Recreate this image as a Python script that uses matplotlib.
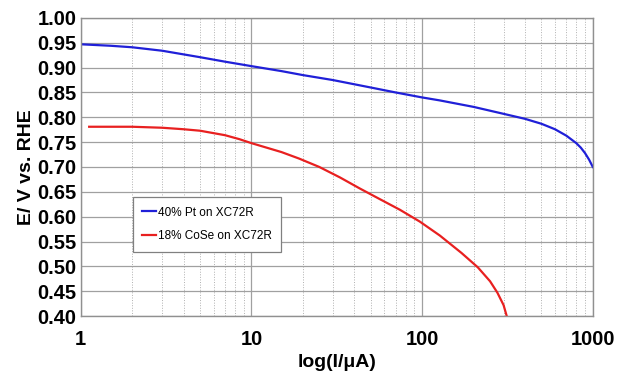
import matplotlib
matplotlib.use("Agg")
import matplotlib.pyplot as plt
from matplotlib.ticker import LogLocator, NullFormatter
import numpy as np

plt.rcParams['font.family'] = ['Liberation Sans', 'DejaVu Sans']

# current (uA) and potential (V vs RHE)
pt_current = [1.0, 1.5, 2.0, 3.0, 5.0, 7.0, 10, 15, 20, 30, 50, 70, 100, 127, 200, 300, 400, 500, 600, 700, 800, 850, 900, 950, 1000]
pt_potential = [0.947, 0.944, 0.941, 0.934, 0.921, 0.912, 0.903, 0.893, 0.885, 0.875, 0.860, 0.850, 0.840, 0.834, 0.821, 0.807, 0.797, 0.787, 0.776, 0.763, 0.748, 0.739, 0.728, 0.715, 0.700]

cose_current = [1.12, 1.5, 2.0, 3.0, 4.0, 5.0, 7.0, 8.5, 10, 15, 19, 25, 33, 43, 56, 74, 97, 127, 170, 212, 250, 276, 300, 313]
cose_potential = [0.781, 0.781, 0.781, 0.779, 0.776, 0.773, 0.764, 0.756, 0.748, 0.730, 0.717, 0.700, 0.679, 0.657, 0.636, 0.614, 0.590, 0.562, 0.527, 0.498, 0.470, 0.447, 0.422, 0.400]

labels = ["40% Pt on XC72R", "18% CoSe on XC72R"]

fig = plt.figure(figsize=(6.26, 3.74), dpi=100)
ax = fig.add_axes([0.129, 0.155, 0.818, 0.797])

ax.plot(pt_current, pt_potential, color='#2020d8', lw=1.6, label=labels[0])
ax.plot(cose_current, cose_potential, color='#e82020', lw=1.6, label=labels[1])

ax.set_xscale('log')
ax.set_xlim(1, 1000)
ax.set_ylim(0.40, 1.00)
yt = np.arange(0.40, 1.001, 0.05)
ax.set_yticks(yt)
ax.set_yticklabels(["%.2f" % v for v in yt])
ax.set_xticks([1, 10, 100, 1000])
ax.set_xticklabels(["1", "10", "100", "1000"])
ax.xaxis.set_minor_locator(LogLocator(base=10, subs=np.arange(2, 10)))
ax.xaxis.set_minor_formatter(NullFormatter())

ax.grid(True, which='major', color='#a0a0a0', lw=0.9)
ax.grid(True, which='minor', axis='x', color='#b0b0b0', lw=0.7, ls=':')
ax.tick_params(which='both', length=0, labelsize=14.5)
ax.tick_params(axis='y', pad=3)
ax.tick_params(axis='x', pad=10)
for lab in ax.get_xticklabels() + ax.get_yticklabels():
    lab.set_fontweight('bold')
for s in ax.spines.values():
    s.set_color('#909090')
    s.set_linewidth(1.0)

ax.set_xlabel("log(I/\u03bcA)", fontsize=14, fontweight='bold', labelpad=4)
ax.set_ylabel("E/ V vs. RHE", fontsize=14, fontweight='bold', labelpad=2)

leg = ax.legend(loc='upper left', bbox_to_anchor=(0.1016, 0.399), borderaxespad=0,
                fontsize=8.5, handlelength=1.2, handletextpad=0.1, fancybox=False,
                framealpha=1, edgecolor='#808080', borderpad=0.8, labelspacing=1.0)
leg.get_frame().set_linewidth(0.9)

fig.savefig("out.png", dpi=100)
